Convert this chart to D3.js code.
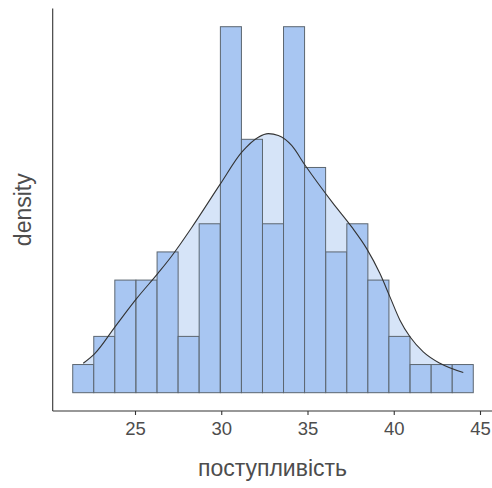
<!DOCTYPE html>
<html>
<head>
<meta charset="utf-8">
<script src="https://cdn.jsdelivr.net/npm/d3@7"></script>
<style>
  html, body { margin: 0; padding: 0; background: #ffffff; }
  svg { display: block; }
</style>
</head>
<body>
<svg id="chart" width="492" height="488"></svg>
<script>
// Histogram of "поступливість": 19 bins of equal width, centred from 22 to 44
const binCenters = [22.00, 23.22, 24.44, 25.67, 26.89, 28.11, 29.33, 30.56, 31.78, 33.00,
                    34.22, 35.44, 36.67, 37.89, 39.11, 40.33, 41.56, 42.78, 44.00];
const binCounts  = [1, 2, 4, 4, 5, 2, 6, 13, 9, 6, 13, 8, 5, 6, 4, 2, 1, 1, 1];

// Kernel density estimate over the data range
const kdeX       = [22.00, 22.68, 23.84, 25.10, 26.35, 27.13, 28.30, 29.93, 31.19,
                    32.15, 32.73, 33.31, 34.08, 34.86, 35.63, 36.45, 37.56, 38.43,
                    39.20, 39.78, 40.36, 40.94, 41.71, 42.68, 44.03];
const kdeDensity = [0.0092, 0.0123, 0.0206, 0.0295, 0.0375, 0.0428, 0.0518, 0.0652, 0.0753,
                    0.0800, 0.0811, 0.0805, 0.0774, 0.0712, 0.0654, 0.0595, 0.0519, 0.0451,
                    0.0373, 0.0300, 0.0227, 0.0175, 0.0128, 0.0092, 0.0063];

const xTicks = [25, 30, 35, 40, 45];
const xTitle = "поступливість";
const yTitle = "density";

const binWidth = binCenters[1] - binCenters[0];
const total = d3.sum(binCounts);
const bins = binCenters.map((c, i) => ({
  x0: c - binWidth / 2,
  x1: c + binWidth / 2,
  density: binCounts[i] / (total * binWidth)
}));
const kde = kdeX.map((x, i) => ({ x, y: kdeDensity[i] }));

const svg = d3.select("#chart");
const panel = { left: 52.7, right: 493.3, top: 8.4, bottom: 411 };

const xMin = bins[0].x0, xMax = bins[bins.length - 1].x1;
const xPad = (xMax - xMin) * 0.05;
const x = d3.scaleLinear().domain([xMin - xPad, xMax + xPad]).range([panel.left, panel.right]);

const yMax = d3.max(bins, d => d.density);
const y = d3.scaleLinear().domain([-yMax * 0.05, yMax * 1.05]).range([panel.bottom, panel.top]);

// density area (drawn behind the bars)
const curve = d3.curveMonotoneX;
svg.append("path")
  .datum(kde)
  .attr("d", d3.area().x(d => x(d.x)).y0(y(0)).y1(d => y(d.y)).curve(curve))
  .attr("fill", "#d6e4f8")
  .attr("stroke", "none");

// histogram bars
svg.append("g")
  .selectAll("rect")
  .data(bins)
  .join("rect")
  .attr("x", d => x(d.x0))
  .attr("width", d => x(d.x1) - x(d.x0))
  .attr("y", d => y(d.density))
  .attr("height", d => y(0) - y(d.density))
  .attr("fill", "#a8c6f2")
  .attr("stroke", "#5c6670")
  .attr("stroke-width", 1);

// density line
svg.append("path")
  .datum(kde)
  .attr("d", d3.line().x(d => x(d.x)).y(d => y(d.y)).curve(curve))
  .attr("fill", "none")
  .attr("stroke", "#333333")
  .attr("stroke-width", 1.1);

// x axis
const xAxis = svg.append("g")
  .attr("transform", `translate(0,${panel.bottom})`)
  .call(d3.axisBottom(x).tickValues(xTicks).tickSize(4).tickPadding(7).tickFormat(d3.format("d")));
xAxis.select(".domain").attr("stroke", "#333333").attr("stroke-width", 1.1)
  .attr("d", `M${panel.left},0H${panel.right}`);
xAxis.selectAll(".tick line").attr("stroke", "#333333").attr("stroke-width", 1.1);
xAxis.selectAll(".tick text")
  .attr("fill", "#4d4d4d")
  .style("font-family", "'Liberation Sans', Arial, sans-serif")
  .style("font-size", "18.5px");

// y axis: line only
svg.append("line")
  .attr("x1", panel.left).attr("x2", panel.left)
  .attr("y1", panel.top).attr("y2", panel.bottom)
  .attr("stroke", "#333333").attr("stroke-width", 1.1);

// axis titles
svg.append("text")
  .attr("x", (panel.left + panel.right) / 2 - 0.5)
  .attr("y", 476)
  .attr("text-anchor", "middle")
  .attr("fill", "#4d4d4d")
  .style("font-family", "'Liberation Sans', Arial, sans-serif")
  .style("font-size", "23px")
  .text(xTitle);

svg.append("text")
  .attr("transform", `translate(31,${(panel.top + panel.bottom) / 2}) rotate(-90)`)
  .attr("text-anchor", "middle")
  .attr("fill", "#4d4d4d")
  .style("font-family", "'Liberation Sans', Arial, sans-serif")
  .style("font-size", "23px")
  .text(yTitle);
</script>
</body>
</html>
